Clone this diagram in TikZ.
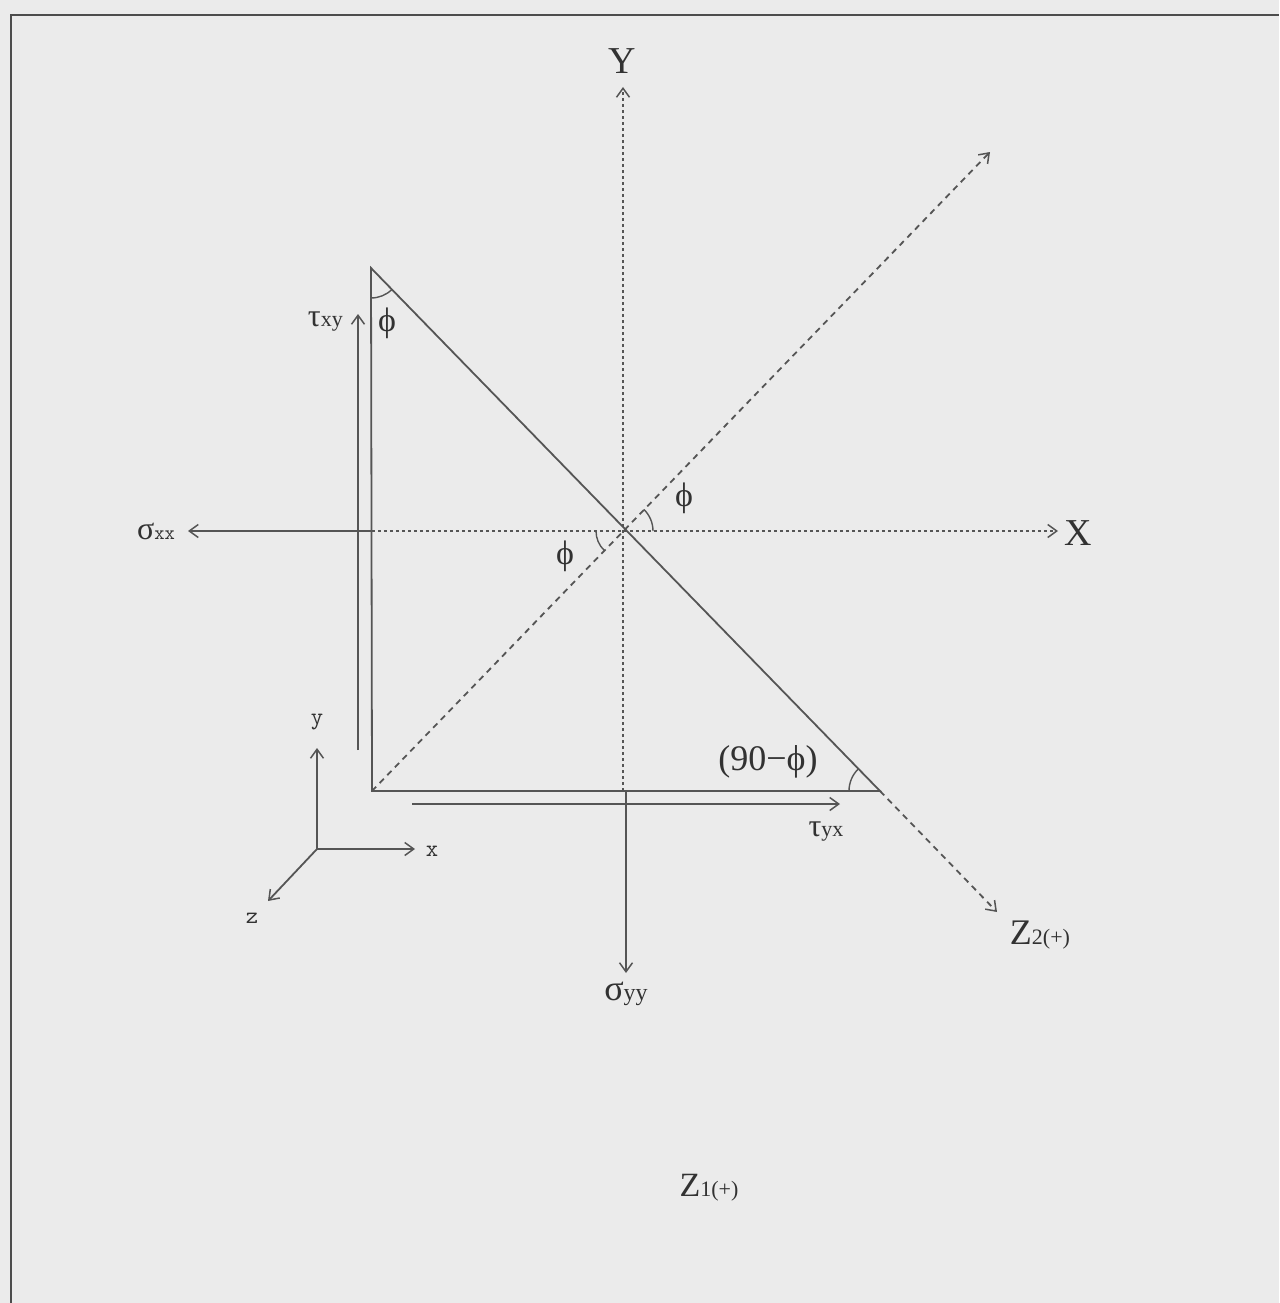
\documentclass[tikz,border=0pt]{standalone}
\usepackage{fontspec}
\setmainfont{Liberation Serif}
\usetikzlibrary{arrows.meta}
\definecolor{bg}{RGB}{235,235,235}
\definecolor{ink}{RGB}{85,85,85}
\definecolor{txt}{RGB}{50,50,50}
\newcommand{\fs}[1]{\fontsize{#1}{#1}\selectfont}
\begin{document}
\begin{tikzpicture}[x=1pt,y=-1pt,
  ln/.style={draw=ink,line width=1.8pt},
  tipped/.style={-{Straight Barb[length=9pt,width=13pt,line width=1.5pt]}},
  dotax/.style={ln,dash pattern=on 3pt off 3pt},
  dashd/.style={ln,dash pattern=on 6pt off 5pt},
  lbl/.style={text=txt,inner sep=0pt},
  big/.style={lbl,font=\fs{38}},
  mono/.style={lbl,font=\ttfamily\fs{24}}]
\useasboundingbox (0,0) rectangle (1279,1303);
\fill[bg] (0,0) rectangle (1279,1303);
\draw[draw=black!70,line width=2.6pt] (11,1303) -- (11,15) -- (1279,15);

% key points
\coordinate (C) at (623,531);
\coordinate (A) at (371,268);
\coordinate (B) at (372,791);
\coordinate (D) at (880,791);
\coordinate (Ytop) at (623,87);
\coordinate (Ybot) at (623,791);
\coordinate (Xtip) at (1058,531);
\coordinate (Xleft) at (372,531);
\coordinate (Sxxtip) at (188,531);
\coordinate (Syytip) at (626,973);
\coordinate (Syytop) at (626,791);
\coordinate (Z2tip) at (997,912);
\coordinate (NEtip) at (990,152);
\coordinate (Txybot) at (358,750);
\coordinate (Txytip) at (358,314);
\coordinate (Tyxleft) at (412,804);
\coordinate (Tyxtip) at (840,804);
\coordinate (O) at (317,849);
\coordinate (Otx) at (415,849);
\coordinate (Oty) at (317,748);
\coordinate (Otz) at (268,901);

% labels
\node[big] (Ylab) at (622,61) {Y};
\node[big] (Xlab) at (1078,533) {X};
\node[lbl] (sxx) at (156,531) {{\fs{32}σ}{\ttfamily\fs{20}xx}};
\node[lbl] (syy) at (626,994) {{\fs{36}σ}{\fs{24}yy}};
\node[lbl,anchor=east] (txy) at (343,322) {{\fs{32}τ}{\fs{22}xy}};
\node[lbl] (tyx) at (826,832) {{\fs{32}τ}{\fs{22}yx}};
\node[lbl,font=\fs{34}] (phi1) at (387,323) {ϕ};
\node[lbl,font=\fs{34}] (phi2) at (684,498) {ϕ};
\node[lbl,font=\fs{34}] (phi3) at (565,556) {ϕ};
\node[lbl,font=\fs{36}] (ang) at (768,762) {(90−ϕ)};
\node[lbl] (z2) at (1040,935) {{\fs{36}Z}{\fs{22}2(+)}};
\node[lbl] (z1) at (709,1188) {{\fs{34}Z}{\fs{22}1(+)}};
\node[mono] (lx) at (432,851) {x};
\node[mono] (ly) at (317,722) {y};
\node[mono] (lz) at (252,918) {z};

% axes
\draw[dotax,tipped] (Ybot) -- (Ytop);
\draw[dotax,tipped] (Xleft) -- (Xtip);
\draw[ln,tipped] (Xleft) -- (Sxxtip);
\draw[ln,tipped] (Syytop) -- (Syytip);

% diagonals
\draw[dashd,tipped] (B) -- (NEtip);
\draw[dashd,tipped] (D) -- (Z2tip);

% triangle
\draw[ln,line join=miter] (A) -- (B) -- (D) -- cycle;

% shear arrows
\draw[ln,tipped] (Txybot) -- (Txytip);
\draw[ln,tipped] (Tyxleft) -- (Tyxtip);

% angle arcs
\draw[ln,line width=1.4pt] (A) ++(270:30pt) arc[start angle=270,end angle=314.2,radius=30pt];
\draw[ln,line width=1.4pt] (C) ++(0:30pt) arc[start angle=0,end angle=46,radius=30pt];
\draw[ln,line width=1.4pt] (C) ++(180:27pt) arc[start angle=180,end angle=226,radius=27pt];
\draw[ln,line width=1.4pt] (D) ++(134.2:31pt) arc[start angle=134.2,end angle=180,radius=31pt];

% triad
\draw[ln,tipped] (O) -- (Otx);
\draw[ln,tipped] (O) -- (Oty);
\draw[ln,tipped] (O) -- (Otz);
\end{tikzpicture}
\end{document}
